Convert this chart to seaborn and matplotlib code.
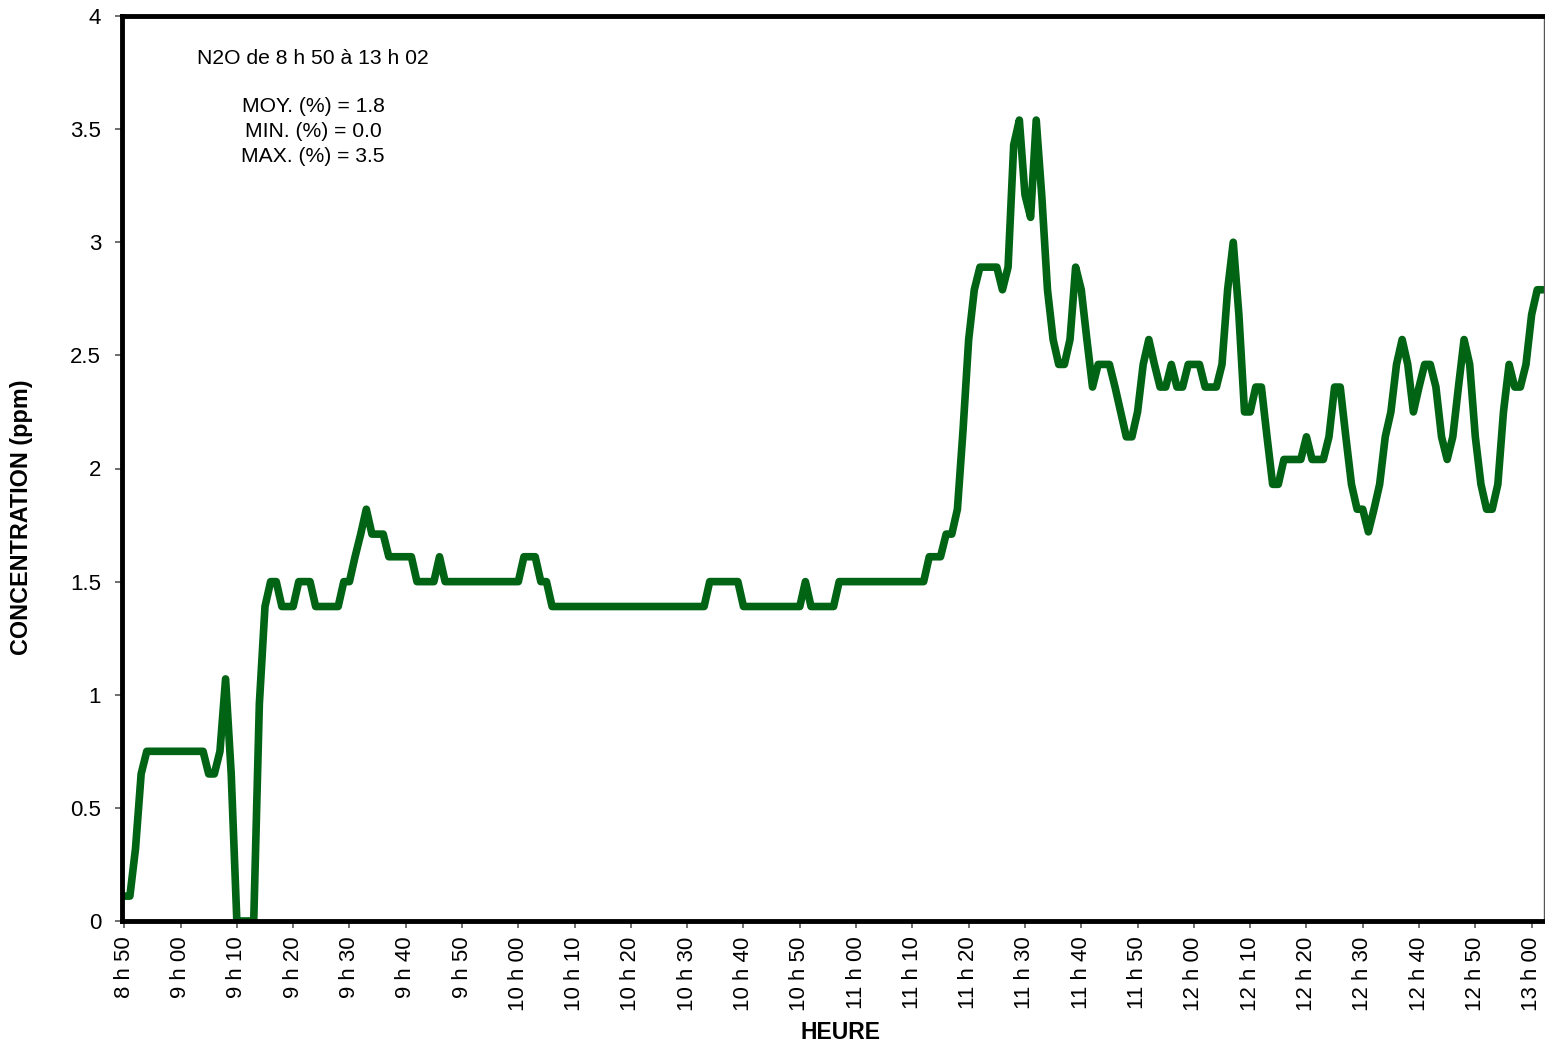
import numpy as np
import pandas as pd
import matplotlib
matplotlib.use("Agg")
import matplotlib.pyplot as plt
import seaborn as sns

# N2O concentration (ppm), one reading per minute from 8 h 50 to 13 h 02
ppm_08h = [0.11, 0.11, 0.32, 0.65, 0.75, 0.75, 0.75, 0.75, 0.75, 0.75]
ppm_09h = [0.75, 0.75, 0.75, 0.75, 0.75, 0.65, 0.65, 0.75, 1.07, 0.65,
           0.0, 0.0, 0.0, 0.0, 0.96, 1.39, 1.5, 1.5, 1.39, 1.39,
           1.39, 1.5, 1.5, 1.5, 1.39, 1.39, 1.39, 1.39, 1.39, 1.5,
           1.5, 1.61, 1.71, 1.82, 1.71, 1.71, 1.71, 1.61, 1.61, 1.61,
           1.61, 1.61, 1.5, 1.5, 1.5, 1.5, 1.61, 1.5, 1.5, 1.5,
           1.5, 1.5, 1.5, 1.5, 1.5, 1.5, 1.5, 1.5, 1.5, 1.5]
ppm_10h = [1.5, 1.61, 1.61, 1.61, 1.5, 1.5, 1.39, 1.39, 1.39, 1.39,
           1.39, 1.39, 1.39, 1.39, 1.39, 1.39, 1.39, 1.39, 1.39, 1.39,
           1.39, 1.39, 1.39, 1.39, 1.39, 1.39, 1.39, 1.39, 1.39, 1.39,
           1.39, 1.39, 1.39, 1.39, 1.5, 1.5, 1.5, 1.5, 1.5, 1.5,
           1.39, 1.39, 1.39, 1.39, 1.39, 1.39, 1.39, 1.39, 1.39, 1.39,
           1.39, 1.5, 1.39, 1.39, 1.39, 1.39, 1.39, 1.5, 1.5, 1.5]
ppm_11h = [1.5, 1.5, 1.5, 1.5, 1.5, 1.5, 1.5, 1.5, 1.5, 1.5,
           1.5, 1.5, 1.5, 1.61, 1.61, 1.61, 1.71, 1.71, 1.82, 2.17,
           2.57, 2.79, 2.89, 2.89, 2.89, 2.89, 2.79, 2.89, 3.43, 3.54,
           3.21, 3.11, 3.54, 3.2, 2.79, 2.57, 2.46, 2.46, 2.57, 2.89,
           2.79, 2.57, 2.36, 2.46, 2.46, 2.46, 2.36, 2.25, 2.14, 2.14,
           2.25, 2.46, 2.57, 2.46, 2.36, 2.36, 2.46, 2.36, 2.36, 2.46]
ppm_12h = [2.46, 2.46, 2.36, 2.36, 2.36, 2.46, 2.79, 3.0, 2.68, 2.25,
           2.25, 2.36, 2.36, 2.14, 1.93, 1.93, 2.04, 2.04, 2.04, 2.04,
           2.14, 2.04, 2.04, 2.04, 2.14, 2.36, 2.36, 2.14, 1.93, 1.82,
           1.82, 1.72, 1.82, 1.93, 2.14, 2.25, 2.46, 2.57, 2.46, 2.25,
           2.36, 2.46, 2.46, 2.36, 2.14, 2.04, 2.14, 2.36, 2.57, 2.46,
           2.14, 1.93, 1.82, 1.82, 1.93, 2.25, 2.46, 2.36, 2.36, 2.46]
ppm_13h = [2.68, 2.79, 2.79]

tick_labels = ["8 h 50", "9 h 00", "9 h 10", "9 h 20", "9 h 30", "9 h 40", "9 h 50",
               "10 h 00", "10 h 10", "10 h 20", "10 h 30", "10 h 40", "10 h 50",
               "11 h 00", "11 h 10", "11 h 20", "11 h 30", "11 h 40", "11 h 50",
               "12 h 00", "12 h 10", "12 h 20", "12 h 30", "12 h 40", "12 h 50",
               "13 h 00"]
y_ticks = [0, 0.5, 1, 1.5, 2, 2.5, 3, 3.5, 4]
y_tick_labels = ["0", "0.5", "1", "1.5", "2", "2.5", "3", "3.5", "4"]

title_text = "N2O de 8 h 50 à 13 h 02"
stats_text = ["MOY. (%) = 1.8", "MIN. (%) = 0.0", "MAX. (%) = 3.5"]

values = ppm_08h + ppm_09h + ppm_10h + ppm_11h + ppm_12h + ppm_13h
df = pd.DataFrame({"minute": np.arange(len(values)), "ppm": values})

sns.set_theme(style="white")
plt.rcParams["font.family"] = ["Liberation Sans", "DejaVu Sans"]
plt.rcParams["text.color"] = "black"
plt.rcParams["axes.labelcolor"] = "black"
plt.rcParams["xtick.labelcolor"] = "black"
plt.rcParams["ytick.labelcolor"] = "black"

fig = plt.figure(figsize=(15.45, 10.44), dpi=100)
ax = fig.add_axes([122 / 1545, 1 - 921 / 1044, (1544 - 122) / 1545, (921 - 16) / 1044])

sns.lineplot(data=df, x="minute", y="ppm", ax=ax, color="#006414",
             linewidth=5.5, solid_joinstyle="round", solid_capstyle="round")

ax.set_xlim(-0.4, 252.2)
ax.set_ylim(0, 4)
ax.set_xticks(np.arange(0, 251, 10))
ax.set_xticklabels(tick_labels, rotation=90, fontsize=16)
ax.set_yticks(y_ticks)
ax.set_yticklabels(y_tick_labels, fontsize=16)
ax.tick_params(axis="both", which="major", direction="out", length=5, width=1.2,
               color="#555555", bottom=True, left=True)
ax.tick_params(axis="x", pad=6)
ax.tick_params(axis="y", pad=10)

ax.set_xlabel("HEURE", fontsize=16.5, fontweight="bold")
ax.set_ylabel("CONCENTRATION (ppm)", fontsize=16.8, fontweight="bold")
ax.xaxis.set_label_coords((841 - 122) / 1422, -(1021 - 921) / 905)
ax.yaxis.set_label_coords((33 - 122) / 1422, (921 - 517) / 905)

for side in ["left", "bottom", "top"]:
    ax.spines[side].set_color("black")
    ax.spines[side].set_linewidth(3.5)
ax.spines["right"].set_color("#555555")
ax.spines["right"].set_linewidth(1)

fig.text(313 / 1545, 1 - 59 / 1044, title_text, ha="center", va="center", fontsize=15.2)
for i, s in enumerate(stats_text):
    fig.text(313 / 1545, 1 - (107 + 24.5 * i) / 1044, s, ha="center", va="center", fontsize=15.2)

fig.savefig("out.png", dpi=100)
